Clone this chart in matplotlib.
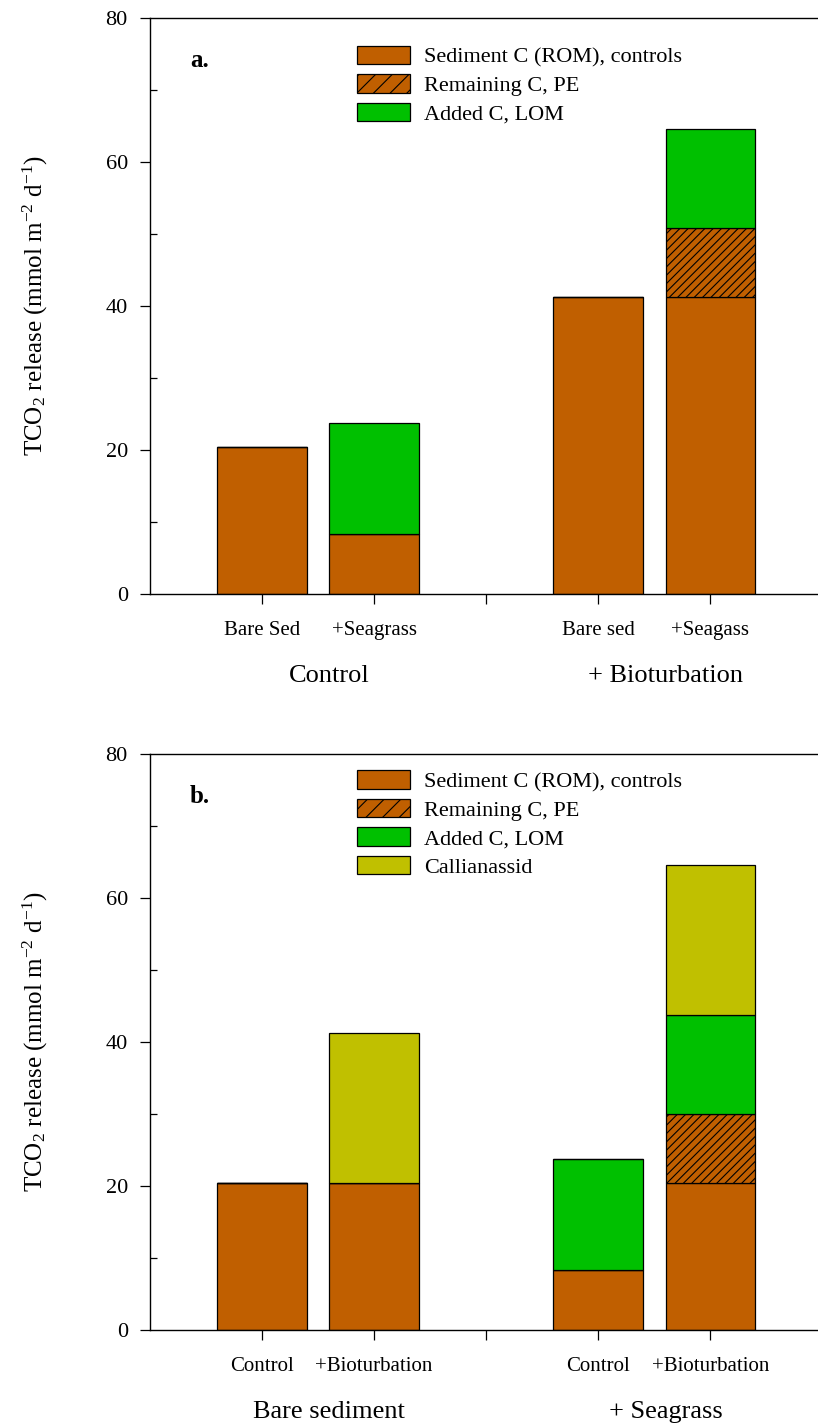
import matplotlib
matplotlib.use('Agg')
import matplotlib.pyplot as plt
import matplotlib.patches as mpatches
from matplotlib.ticker import MultipleLocator
import numpy as np

plt.rcParams['font.family'] = ['Liberation Serif', 'DejaVu Serif']
plt.rcParams['mathtext.fontset'] = 'custom'
plt.rcParams['mathtext.rm'] = 'Liberation Serif'
plt.rcParams['mathtext.it'] = 'Liberation Serif:italic'
plt.rcParams['hatch.linewidth'] = 0.8

# bar positions (tick at 3 is left empty between groups)
positions = [1, 2, 4, 5]

# panel a: Control vs + Bioturbation
labels_a = ['Bare Sed', '+Seagrass', 'Bare sed', '+Seagass']
groups_a = ['Control', '+ Bioturbation']
rom_a = [20.4, 8.3, 41.2, 41.2]
pe_a = [0, 0, 0, 9.7]
lom_a = [0, 15.5, 0, 13.7]

# panel b: Bare sediment vs + Seagrass
labels_b = ['Control', '+Bioturbation', 'Control', '+Bioturbation']
groups_b = ['Bare sediment', '+ Seagrass']
rom_b = [20.4, 20.4, 8.3, 20.4]
pe_b = [0, 0, 0, 9.6]
lom_b = [0, 0, 15.5, 13.8]
call_b = [0, 20.8, 0, 20.8]

BROWN = '#c05f00'
GREEN = '#00c000'
YELLOW = '#c0c000'


def drawPanel(ax, layers, tickLabels, groupNames, letter, legendY):
    bottom = np.zeros(len(positions))
    handles = []
    for vals, color, hatch, name in layers:
        vals = np.array(vals, dtype=float)
        ax.bar(positions, vals, width=0.8, bottom=bottom, color=color,
               edgecolor='black', linewidth=0.9,
               hatch='////' if hatch else None)
        bottom += vals
        handles.append(mpatches.Patch(facecolor=color, edgecolor='black',
                                      linewidth=0.9,
                                      hatch='//' if hatch else None,
                                      label=name))

    ax.set_xlim(0, 5.96)
    ax.set_ylim(0, 80)
    ax.set_xticks([1, 2, 3, 4, 5])
    ax.set_xticklabels(tickLabels[:2] + [''] + tickLabels[2:])
    ax.yaxis.set_major_locator(MultipleLocator(20))
    ax.yaxis.set_minor_locator(MultipleLocator(10))
    ax.tick_params(axis='y', which='major', direction='out', length=7.5,
                   width=0.9, labelsize=16, pad=8.5)
    ax.tick_params(axis='y', which='minor', direction='in', length=5, width=0.9)
    ax.tick_params(axis='x', which='major', direction='out', length=7.5,
                   width=0.9, labelsize=15, pad=12)
    for side in ['left', 'bottom', 'top']:
        ax.spines[side].set_linewidth(1.0)
    ax.spines['right'].set_visible(False)

    ax.set_ylabel(r'TCO$_2$ release (mmol m$^{-2}$ d$^{-1}$)', fontsize=18)
    ax.yaxis.set_label_coords(-0.15, 0.5)

    for x, name in zip([1.6, 4.6], groupNames):
        ax.text(x, -0.142, name, transform=ax.get_xaxis_transform(),
                ha='center', va='center', fontsize=19)

    ax.text(0.06, 0.927, letter, transform=ax.transAxes, fontsize=18,
            fontweight='bold', ha='left', va='center')

    ax.legend(handles=handles, loc='upper left',
              bbox_to_anchor=(0.31, legendY), frameon=False,
              fontsize=16, handlelength=2.4, handleheight=0.9,
              handletextpad=0.6, labelspacing=0.3, borderpad=0,
              borderaxespad=0)


fig = plt.figure(figsize=(8.18, 14.25), dpi=100)
left = 150 / 818
axA = fig.add_axes([left, 1 - 594 / 1425, 1 - left, 576 / 1425])
axB = fig.add_axes([left, 1 - 1330 / 1425, 1 - left, 576 / 1425])

drawPanel(axA, [(rom_a, BROWN, False, 'Sediment C (ROM), controls'),
                (pe_a, BROWN, True, 'Remaining C, PE'),
                (lom_a, GREEN, False, 'Added C, LOM')],
          labels_a, groups_a, 'a.', 0.952)

drawPanel(axB, [(rom_b, BROWN, False, 'Sediment C (ROM), controls'),
                (pe_b, BROWN, True, 'Remaining C, PE'),
                (lom_b, GREEN, False, 'Added C, LOM'),
                (call_b, YELLOW, False, 'Callianassid')],
          labels_b, groups_b, 'b.', 0.972)

fig.savefig('out.png', dpi=100)
